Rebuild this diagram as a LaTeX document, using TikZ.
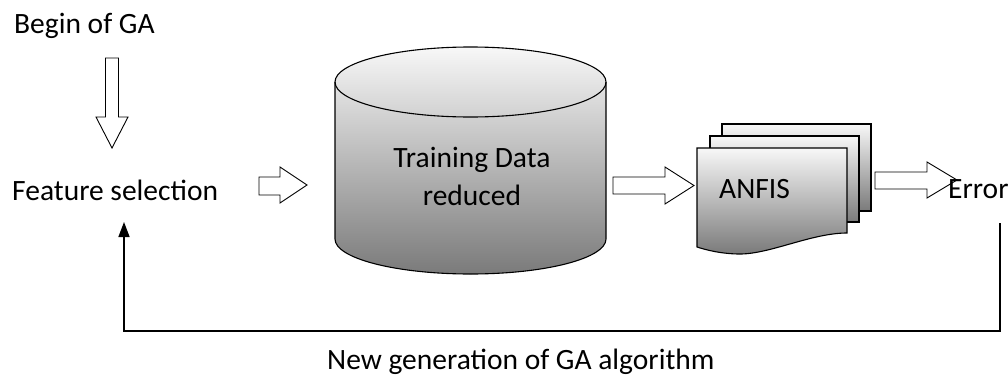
\documentclass[tikz,border=0pt]{standalone}
\usepackage{fontspec}
\setmainfont{Carlito}
\usetikzlibrary{arrows.meta}
\begin{document}
\begin{tikzpicture}[x=1pt,y=1pt,
  lbl/.style={font=\fontsize{29.5}{38}\selectfont, inner sep=0pt, anchor=base west},
  hollow/.style={draw=black, line width=0.9pt, fill=white, line join=miter},
  fb/.style={draw=black, line width=1.5pt, -{Triangle[length=15pt,width=11pt]}},
  shadebox/.style={top color=white!97!black, bottom color=black!52},
  outline/.style={draw=black, line width=1.1pt}
]
\useasboundingbox (0,0) rectangle (1008,376);

% hollow block arrows
\draw[hollow] (105.5,318) -- (118.5,318) -- (118.5,259) -- (128,259) -- (112,228) -- (96,259) -- (105.5,259) -- cycle;
\draw[hollow] (259,199) -- (280,199) -- (280,209) -- (307,191) -- (280,173) -- (280,181) -- (259,181) -- cycle;
\draw[hollow] (613,199) -- (665,199) -- (665,209) -- (694,190.5) -- (665,172) -- (665,182) -- (613,182) -- cycle;
\draw[hollow] (875,204) -- (927,204) -- (927,214) -- (957,196) -- (927,178) -- (927,187) -- (875,187) -- cycle;

% cylinder
\shade[shadebox] (335,294) -- (335,137) arc[start angle=180,end angle=360,x radius=135.5pt,y radius=35pt] -- (606,294) arc[start angle=0,end angle=180,x radius=135.5pt,y radius=35pt] -- cycle;
\draw[outline] (335,294) -- (335,137) arc[start angle=180,end angle=360,x radius=135.5pt,y radius=35pt] -- (606,294);
\draw[outline] (470.5,294) ellipse [x radius=135.5pt, y radius=35pt];
\node[lbl, anchor=base, align=center] (data) at (472,171) {Training Data\\reduced};

% ANFIS document stack
\shade[shadebox] (722,252) rectangle (871,165);
\draw[outline] (722,252) rectangle (871,165);
\shade[shadebox] (710,240) rectangle (859,154);
\draw[outline] (710,240) rectangle (859,154);
\shade[shadebox] (697,228) -- (847,228) -- (847,143) .. controls (812,143) and (770,122) .. (740,122) .. controls (722,122) and (706,126) .. (697,129) -- cycle;
\draw[outline] (697,228) -- (847,228) -- (847,143) .. controls (812,143) and (770,122) .. (740,122) .. controls (722,122) and (706,126) .. (697,129) -- cycle;

% labels
\node[lbl] (begin) at (14,343) {Begin of GA};
\node[lbl] (feat) at (12,176) {Feature selection};
\node[lbl] (anfis) at (719,178) {ANFIS};
\node[lbl] (error) at (948,178) {Error};
\node[lbl] (newgen) at (327,7) {New generation of GA algorithm};

% feedback loop
\coordinate (fbstart) at (1000,153);
\coordinate (fbc1) at (1000,45);
\coordinate (fbc2) at (124,45);
\coordinate (fbend) at (124,154);
\draw[fb] (fbstart) -- (fbc1) -- (fbc2) -- (fbend);
\end{tikzpicture}
\end{document}
